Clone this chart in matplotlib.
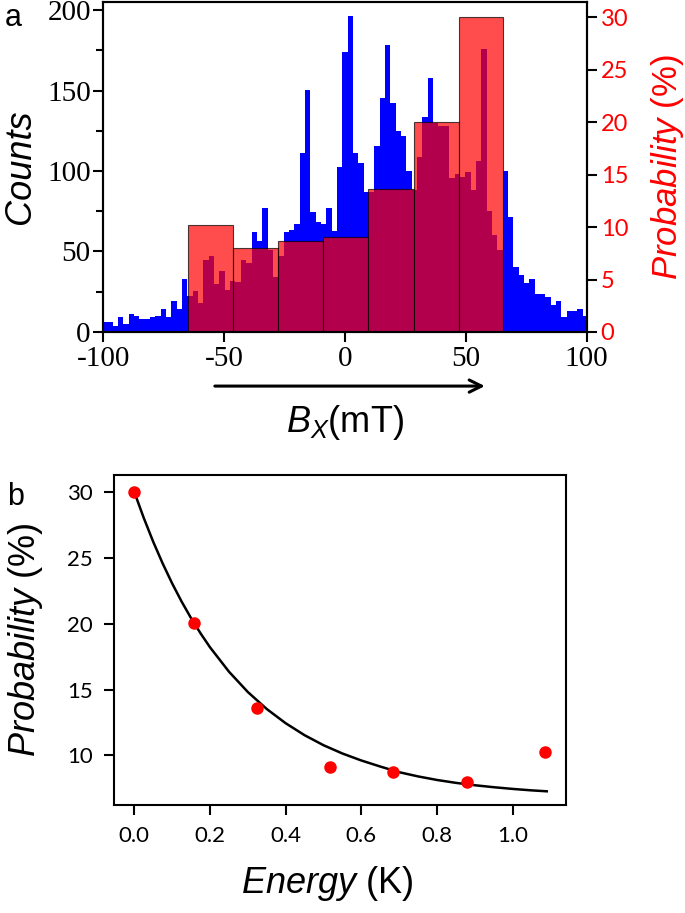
import numpy as np
import matplotlib
matplotlib.use('Agg')
import matplotlib.pyplot as plt

plt.rcParams['font.family'] = ['Liberation Sans', 'DejaVu Sans']
plt.rcParams['mathtext.fontset'] = 'custom'
plt.rcParams['mathtext.rm'] = 'Liberation Sans'
plt.rcParams['mathtext.it'] = 'Liberation Sans:italic'
plt.rcParams['axes.unicode_minus'] = False

# panel a: field histogram (counts), 91 bins of ~2.21 mT
bin_width = 2.21
counts = [6, 6, 3.5, 9.3, 5, 11, 9.9, 8.1, 8.1, 9.3, 9.9, 14.1, 9.5, 19, 14.3, 33.1,
          22.4, 25.7, 18.2, 44.7, 47.2, 29.8, 38.1, 25.9, 31.7, 30.8, 44.7, 42.7, 62.1, 56.7, 76.8, 51,
          34.4, 47.4, 62.3, 63.4, 67.1, 111, 150.1, 74.3, 68.3, 67.1, 76.8, 62.5, 102.7, 174.1, 196.3, 111,
          104.8, 87.1, 87, 115.7, 145.2, 178.3, 142.4, 124.8, 121.7, 100, 88, 109, 133.3, 158, 130, 128, 128,
          95.4, 97.9, 96.5, 99.2, 88.2, 106.2, 175.6, 75.3, 60.2, 50.9, 100.2, 71.6, 40.2, 35.2, 30.6,
          33.1, 23.4, 23.4, 21.9, 16.8, 19.1, 9.5, 13, 13, 14.1, 9.9]
centers = (np.arange(len(counts)) - 45) * bin_width

# panel a: probability per field window (%)
prob_edges = [-64.8, -46.5, -27.8, -9.1, 9.7, 28.5, 47.2, 65.5]
prob = [10.2, 8.0, 8.7, 9.1, 13.6, 20.0, 30.0]

# panel b: probability vs energy
energy = [0.0, 0.158, 0.325, 0.518, 0.684, 0.878, 1.086]
prob_b = [30.0, 20.05, 13.57, 9.11, 8.71, 8.0, 10.23]
fit_x = [0.0, 0.025, 0.05, 0.075, 0.1, 0.125, 0.15, 0.175, 0.2, 0.25, 0.3, 0.35, 0.4, 0.45,
         0.5, 0.55, 0.6, 0.65, 0.7, 0.75, 0.8, 0.85, 0.9, 0.95, 1.0, 1.05, 1.09]
fit_y = [30.0, 28.03, 26.22, 24.57, 23.06, 21.68, 20.42, 19.27, 18.21, 16.36, 14.81, 13.52, 12.44, 11.53,
         10.77, 10.14, 9.61, 9.15, 8.72, 8.40, 8.13, 7.91, 7.73, 7.58, 7.45, 7.34, 7.27]

serif_font = ['Liberation Serif', 'DejaVu Serif']
sans_font = ['Lato', 'DejaVu Sans']

fig = plt.figure(figsize=(6.85, 9.13), dpi=100)

# ---------- panel a ----------
ax = fig.add_axes([0.1508, 0.6364, 0.7057, 0.3614])
ax.bar(centers, counts, width=bin_width, color='blue', linewidth=0)
ax.set_xlim(-100, 100)
ax.set_ylim(0, 205)
ax.set_yticks([0, 50, 100, 150, 200])
ax.set_yticks(np.arange(0, 201, 25), minor=True)
ax.set_xticks([-100, -50, 0, 50, 100])
ax.tick_params(which='both', direction='out', width=1.5, labelsize=21)
ax.tick_params(which='major', length=7)
ax.tick_params(which='minor', length=5)
ax.tick_params(axis='x', pad=3)
ax.tick_params(axis='y', pad=2)
for lab in ax.get_xticklabels() + ax.get_yticklabels():
    lab.set_family(serif_font)
for s in ax.spines.values():
    s.set_linewidth(1.5)
ax.set_ylabel('Counts', fontsize=26, style='italic')
ax.yaxis.set_label_coords(-0.135, 0.5)
ax.set_xlabel(r'$B_X$(mT)', fontsize=26)
ax.xaxis.set_label_coords(0.5, -0.215)

ax2 = ax.twinx()
ax2.bar(prob_edges[:-1], prob, width=np.diff(prob_edges), align='edge',
        color='red', alpha=0.7, edgecolor='black', linewidth=0.8)
ax2.set_ylim(0, 31.46)
ax2.set_yticks([0, 5, 10, 15, 20, 25, 30])
ax2.tick_params(direction='out', width=1.5, length=7, labelsize=17, pad=3,
                colors='black', labelcolor='red')
for lab in ax2.get_yticklabels():
    lab.set_family(sans_font)
for s in ax2.spines.values():
    s.set_linewidth(1.5)
ax2.set_ylabel(r'$\mathit{Probability}$ (%)', fontsize=25, color='red')
ax2.yaxis.set_label_coords(1.128, 0.5)

# arrow under the x axis
ax.annotate('', xy=(59, -0.164), xytext=(-55, -0.164),
            xycoords=ax.get_xaxis_transform(), textcoords=ax.get_xaxis_transform(),
            arrowprops=dict(arrowstyle='->', color='black', lw=2.2, mutation_scale=22),
            annotation_clip=False)

fig.text(0.007, 0.972, 'a', fontsize=22)

# ---------- panel b ----------
bx = fig.add_axes([0.1664, 0.1183, 0.660, 0.3614])
bx.plot(fit_x, fit_y, color='black', lw=1.8)
bx.plot(energy, prob_b, 'o', color='red', ms=8)
bx.set_xlim(-0.0537, 1.141)
bx.set_ylim(6.23, 31.29)
bx.set_xticks([0.0, 0.2, 0.4, 0.6, 0.8, 1.0])
bx.set_yticks([10, 15, 20, 25, 30])
bx.tick_params(direction='out', width=1.5, length=7, labelsize=16, pad=8)
for lab in bx.get_xticklabels() + bx.get_yticklabels():
    lab.set_family(sans_font)
for s in bx.spines.values():
    s.set_linewidth(1.5)
bx.set_ylabel(r'$\mathit{Probability}$ (%)', fontsize=26)
bx.yaxis.set_label_coords(-0.153, 0.5)
bx.set_xlabel(r'$\mathit{Energy}$ (K)', fontsize=26)
bx.xaxis.set_label_coords(0.471, -0.18)

fig.text(0.01, 0.447, 'b', fontsize=22)

fig.savefig('out.png', dpi=100)
